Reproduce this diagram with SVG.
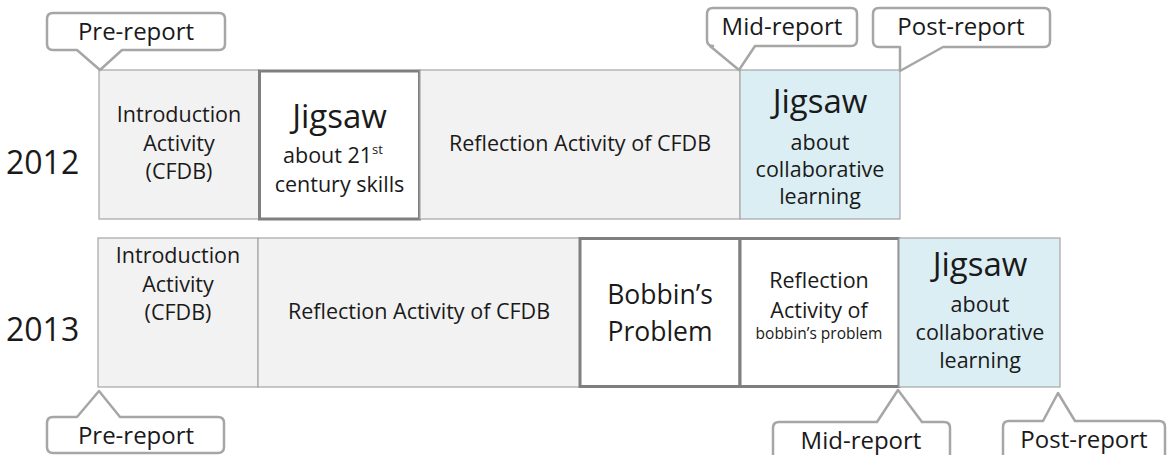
<svg xmlns="http://www.w3.org/2000/svg" width="1172" height="455" viewBox="0 0 1172 455">
<style>
text{font-family:"Open Sans","Liberation Sans",sans-serif;fill:#1a1a1a;text-anchor:middle}
.g{fill:#f2f2f2;stroke:#a6a6a6;stroke-width:1.2}
.b{fill:#dbeef4;stroke:#a6a6a6;stroke-width:1.2}
.t{fill:#ffffff;stroke:#7f7f7f;stroke-width:3}
.c{fill:#ffffff;stroke:#a6a6a6;stroke-width:2.5;stroke-linejoin:round}
.m{font-size:21.5px}
.s{font-size:15.5px}
.big{font-size:33px}
.mid{font-size:26.5px}
.yr{font-size:32px;text-anchor:start}
.cl{font-size:24px}
</style>
<text class="yr" x="6" y="174">2012</text>
<text class="yr" x="6" y="341">2013</text>
<g id="y2012-intro"><rect class="g" x="99" y="70" width="160" height="149"/>
<text class="m" x="179" y="122">Introduction</text><text class="m" x="179" y="151">Activity</text><text class="m" x="179" y="179">(CFDB)</text></g>
<g id="y2012-jigsaw21"><rect class="t" x="259.5" y="71" width="160" height="148"/>
<text class="big" x="339.5" y="128">Jigsaw</text><text class="m" x="333" y="163">about 21<tspan font-size="13" dy="-9">st</tspan></text><text class="m" x="339.5" y="192">century skills</text></g>
<g id="y2012-reflection"><rect class="g" x="420" y="70" width="320" height="149"/>
<text class="m" x="580" y="151">Reflection Activity of CFDB</text></g>
<g id="y2012-jigsawcl"><rect class="b" x="740" y="70" width="160" height="149"/>
<text class="big" x="820" y="113">Jigsaw</text><text class="m" x="820" y="150">about</text><text class="m" x="820" y="177">collaborative</text><text class="m" x="820" y="204">learning</text></g>
<g id="y2013-intro"><rect class="g" x="98" y="238" width="160" height="149"/>
<text class="m" x="178" y="263">Introduction</text><text class="m" x="178" y="292">Activity</text><text class="m" x="178" y="320">(CFDB)</text></g>
<g id="y2013-reflection"><rect class="g" x="258" y="238" width="322" height="149"/>
<text class="m" x="419" y="319">Reflection Activity of CFDB</text></g>
<g id="y2013-bobbin"><rect class="t" x="580" y="238.5" width="160" height="148"/>
<text class="mid" x="660" y="304">Bobbin’s</text><text class="mid" x="660" y="341">Problem</text></g>
<g id="y2013-bobbinref"><rect class="t" x="740" y="238.5" width="159" height="148"/>
<text class="m" x="819" y="288">Reflection</text><text class="m" x="819" y="318">Activity of</text><text class="s" x="819" y="339">bobbin’s problem</text></g>
<g id="y2013-jigsawcl"><rect class="b" x="899" y="238" width="161" height="149"/>
<text class="big" x="980" y="276">Jigsaw</text><text class="m" x="980" y="312">about</text><text class="m" x="980" y="340">collaborative</text><text class="m" x="980" y="368">learning</text></g>
<g id="connectors">
<g id="pre-top"><path class="c" d="M53,13 H219 Q225,13 225,19 V44 Q225,50 219,50 H122 L100,70 L77,50 H53 Q47,50 47,44 V19 Q47,13 53,13 Z"/><text class="cl" x="136" y="40">Pre-report</text></g>
<g id="mid-top"><path class="c" d="M713,8 H851 Q857,8 857,14 V40 Q857,46 851,46 H755 L739,70 L710,46 H713 Q707,46 707,40 V14 Q707,8 713,8 Z"/><text class="cl" x="782" y="35">Mid-report</text></g>
<g id="post-top"><path class="c" d="M879,8 H1044 Q1050,8 1050,14 V41 Q1050,47 1044,47 H943 L900,71 V47 H879 Q873,47 873,41 V14 Q873,8 879,8 Z"/><text class="cl" x="961" y="35">Post-report</text></g>
<g id="pre-bottom"><path class="c" d="M53,417 H77 L99,391 L120,417 H218 Q224,417 224,423 V447 Q224,453 218,453 H53 Q47,453 47,447 V423 Q47,417 53,417 Z"/><text class="cl" x="136" y="444">Pre-report</text></g>
<g id="mid-bottom"><path class="c" d="M779,422 H877 L898,390 L922,422 H944 Q950,422 950,428 V460 H773 V428 Q773,422 779,422 Z"/><text class="cl" x="861" y="449">Mid-report</text></g>
<g id="post-bottom"><path class="c" d="M1009,421 H1043 L1058,393 L1075,421 H1159 Q1165,421 1165,427 V460 H1003 V427 Q1003,421 1009,421 Z"/><text class="cl" x="1084" y="448">Post-report</text></g>
</g>
</svg>
